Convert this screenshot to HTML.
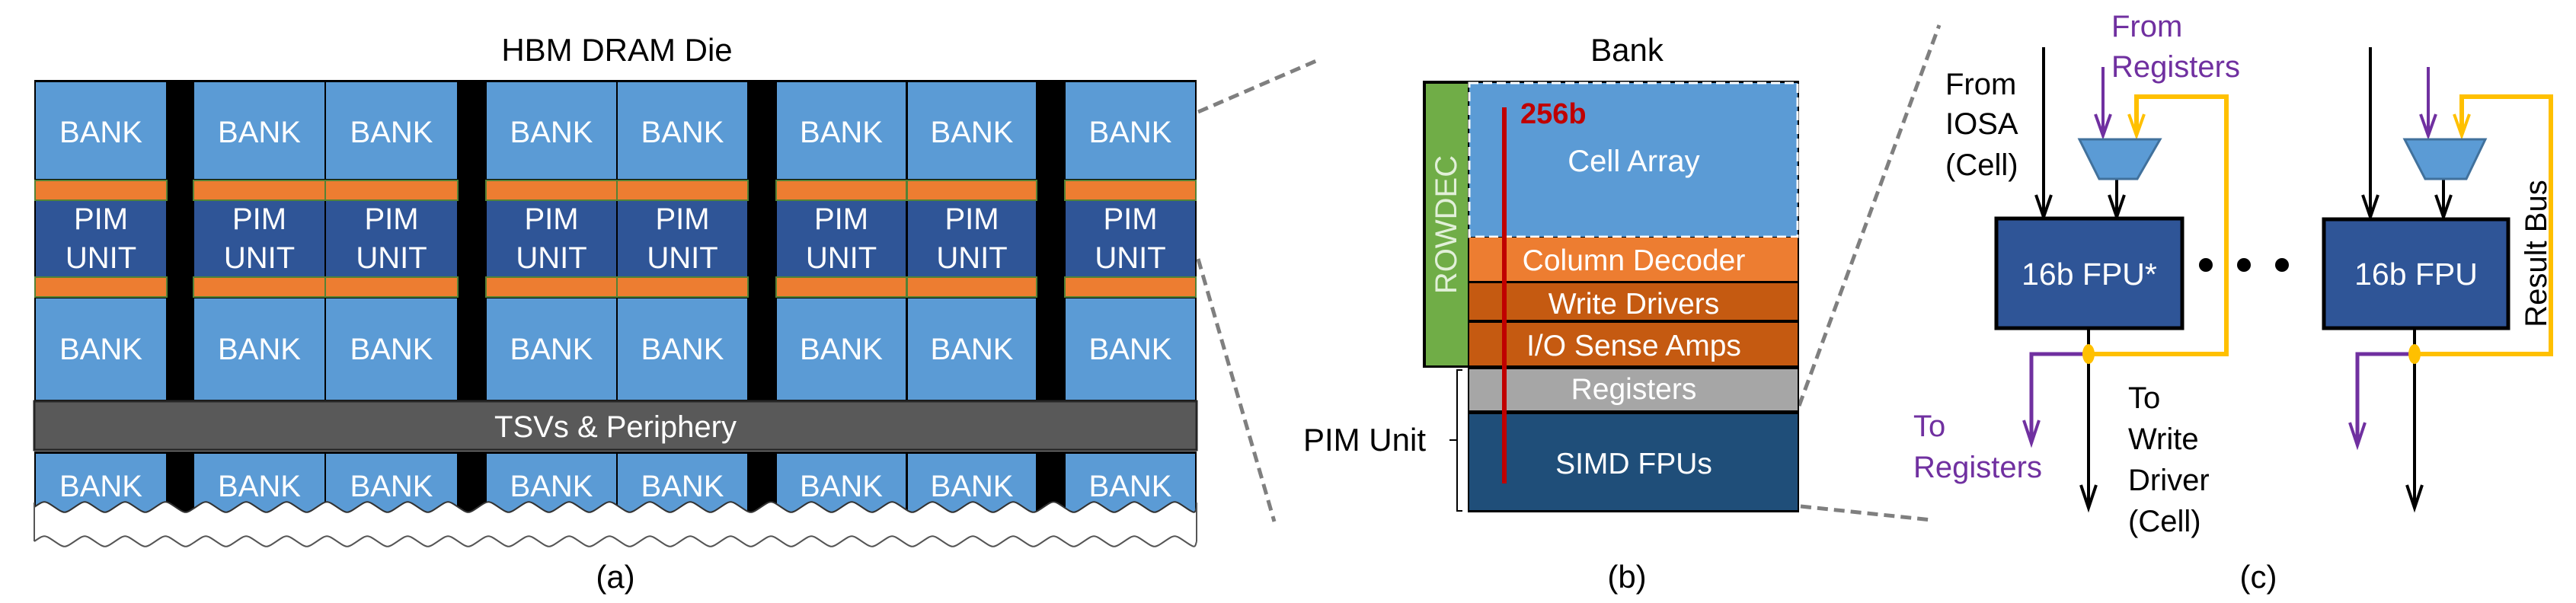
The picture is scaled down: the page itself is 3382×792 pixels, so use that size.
<!DOCTYPE html>
<html><head><meta charset="utf-8"><style>
html,body{margin:0;padding:0;background:#fff;}
svg{display:block;}
text{font-family:"Liberation Sans",Arial,sans-serif;}
</style></head><body>
<svg id="s" width="3382" height="792" viewBox="0 0 3382 792" xmlns="http://www.w3.org/2000/svg">
<g id="a"></g>
<text x="810" y="80" font-size="42" text-anchor="middle">HBM DRAM Die</text>
<text x="808" y="772" font-size="42" text-anchor="middle">(a)</text>

<g stroke="#7f7f7f" stroke-width="5" stroke-dasharray="14,8" fill="none">
<line x1="1573" y1="147" x2="1728" y2="80"/>
<line x1="1573" y1="340" x2="1673" y2="685"/>
<line x1="2362" y1="533" x2="2546" y2="33"/>
<line x1="2364" y1="665" x2="2536" y2="683"/>
</g>

<text x="2136" y="80" font-size="42" text-anchor="middle">Bank</text>
<rect x="1868" y="106" width="494" height="377" fill="#000"/>
<rect x="1872" y="110" width="55" height="370" fill="#70AD47"/>
<text transform="translate(1912,295) rotate(-90)" font-size="40" fill="#E2F0D9" text-anchor="middle">ROWDEC</text>
<rect x="1929" y="109" width="431" height="202" fill="#5B9BD5" stroke="#fff" stroke-width="3" stroke-dasharray="12,6"/>
<text x="2145" y="225" font-size="40" fill="#fff" text-anchor="middle">Cell Array</text>
<rect x="1929" y="312" width="431" height="57" fill="#ED7D31"/>
<text x="2145" y="355" font-size="39" fill="#fff" text-anchor="middle">Column Decoder</text>
<rect x="1929" y="372" width="431" height="48" fill="#C55A11"/>
<text x="2145" y="412" font-size="39" fill="#fff" text-anchor="middle">Write Drivers</text>
<rect x="1929" y="424" width="431" height="56" fill="#C55A11"/>
<text x="2145" y="467" font-size="39" fill="#fff" text-anchor="middle">I/O Sense Amps</text>
<rect x="1927" y="482" width="435" height="191" fill="#000"/>
<rect x="1929" y="485" width="431" height="54" fill="#A6A6A6"/>
<text x="2145" y="524" font-size="39" fill="#fff" text-anchor="middle">Registers</text>
<rect x="1929" y="544" width="431" height="126" fill="#1F4E79"/>
<text x="2145" y="622" font-size="39" fill="#fff" text-anchor="middle">SIMD FPUs</text>
<line x1="1975" y1="141" x2="1975" y2="635" stroke="#C00000" stroke-width="6"/>
<text x="1996" y="162" font-size="38" font-weight="bold" fill="#C00000">256b</text>
<path d="M1920,486 L1913,486 L1913,671 L1920,671 M1913,578 L1903,578" fill="none" stroke="#000" stroke-width="2"/>
<text x="1872" y="592" font-size="42" text-anchor="end">PIM Unit</text>
<text x="2136" y="772" font-size="42" text-anchor="middle">(b)</text>

<g stroke-width="4" fill="none">
<line x1="2683" y1="62" x2="2683" y2="284" stroke="#000"/>
<line x1="2779" y1="236" x2="2779" y2="284" stroke="#000"/>
<line x1="2761" y1="88" x2="2761" y2="176" stroke="#7030A0"/>
<path d="M2805,176 L2805,127 L2923,127 L2923,465 L2742,465" stroke="#FFC000" stroke-width="6"/>
<line x1="2742" y1="433" x2="2742" y2="665" stroke="#000"/>
<path d="M2742,465 L2667,465 L2667,578" stroke="#7030A0" stroke-width="5"/>
<line x1="3112" y1="62" x2="3112" y2="284" stroke="#000"/>
<line x1="3208" y1="236" x2="3208" y2="284" stroke="#000"/>
<line x1="3188" y1="88" x2="3188" y2="176" stroke="#7030A0"/>
<path d="M3232,176 L3232,127 L3349,127 L3349,465 L3170,465" stroke="#FFC000" stroke-width="6"/>
<line x1="3170" y1="433" x2="3170" y2="665" stroke="#000"/>
<path d="M3170,465 L3095,465 L3095,582" stroke="#7030A0" stroke-width="5"/>
</g>
<g fill="none" stroke-width="4">
<path d="M2673,256 L2683,285 L2693,256" stroke="#000"/>
<path d="M2769,256 L2779,285 L2789,256" stroke="#000"/>
<path d="M3102,256 L3112,285 L3122,256" stroke="#000"/>
<path d="M3198,256 L3208,285 L3218,256" stroke="#000"/>
<path d="M2751,150 L2761,178 L2771,150" stroke="#7030A0"/>
<path d="M2795,150 L2805,178 L2815,150" stroke="#FFC000"/>
<path d="M3178,150 L3188,178 L3198,150" stroke="#7030A0"/>
<path d="M3222,150 L3232,178 L3242,150" stroke="#FFC000"/>
<path d="M2657,552 L2667,582 L2677,552" stroke="#7030A0"/>
<path d="M3085,555 L3095,585 L3105,555" stroke="#7030A0"/>
<path d="M2732,637 L2742,667 L2752,637" stroke="#000"/>
<path d="M3160,637 L3170,667 L3180,637" stroke="#000"/>
</g>
<polygon points="2730,183 2836,183 2806,235 2756,235" fill="#5B9BD5" stroke="#41719C" stroke-width="3"/>
<polygon points="3157,183 3263,183 3238,235 3184,235" fill="#5B9BD5" stroke="#41719C" stroke-width="3"/>
<ellipse cx="2742" cy="465" rx="8" ry="13" fill="#FFC000"/>
<ellipse cx="3170" cy="465" rx="8" ry="13" fill="#FFC000"/>
<rect x="2621" y="287" width="244" height="144" fill="#2F5597" stroke="#000" stroke-width="5"/>
<text x="2743" y="374" font-size="41" fill="#fff" text-anchor="middle">16b FPU*</text>
<rect x="3051" y="288" width="242" height="143" fill="#2F5597" stroke="#000" stroke-width="5"/>
<text x="3172" y="374" font-size="41" fill="#fff" text-anchor="middle">16b FPU</text>
<circle cx="2896" cy="348" r="9" fill="#000"/>
<circle cx="2946" cy="348" r="9" fill="#000"/>
<circle cx="2996" cy="348" r="9" fill="#000"/>
<text transform="translate(3343,333) rotate(-90)" font-size="40" text-anchor="middle">Result Bus</text>
<g font-size="40">
<text x="2554" y="124">From</text>
<text x="2554" y="176">IOSA</text>
<text x="2554" y="230">(Cell)</text>
<text x="2772" y="48" fill="#7030A0">From</text>
<text x="2772" y="101" fill="#7030A0">Registers</text>
<text x="2512" y="573" fill="#7030A0">To</text>
<text x="2512" y="627" fill="#7030A0">Registers</text>
<text x="2794" y="536">To</text>
<text x="2794" y="590">Write</text>
<text x="2794" y="644">Driver</text>
<text x="2794" y="698">(Cell)</text>
</g>
<text x="2965" y="772" font-size="42" text-anchor="middle">(c)</text>
</svg>
<script>
(function(){
var ns="http://www.w3.org/2000/svg",g=document.getElementById("a");
function el(t,a){var e=document.createElementNS(ns,t);for(var k in a)e.setAttribute(k,a[k]);g.appendChild(e);return e;}
el("rect",{x:45,y:105,width:1526,height:422,fill:"#000"});
var cols=[[47,171],[255,171],[428,172],[639,170],[811,170],[1020,169],[1192,168],[1399,170]];
cols.forEach(function(c){
 var x=c[0],w=c[1],cx=x+w/2;
 el("rect",{x:x,y:108,width:w,height:127,fill:"#5B9BD5"});
 el("rect",{x:x-1,y:237,width:w+2,height:26,fill:"#ED7D31",stroke:"#548235","stroke-width":2});
 el("rect",{x:x,y:264,width:w,height:99,fill:"#2F5597"});
 el("rect",{x:x-1,y:364,width:w+2,height:26,fill:"#ED7D31",stroke:"#548235","stroke-width":2});
 el("rect",{x:x,y:392,width:w,height:133,fill:"#5B9BD5"});
 var t=el("text",{x:cx,y:187,"font-size":40,fill:"#fff","text-anchor":"middle"});t.textContent="BANK";
 t=el("text",{x:cx,y:301,"font-size":40,fill:"#fff","text-anchor":"middle"});t.textContent="PIM";
 t=el("text",{x:cx,y:352,"font-size":40,fill:"#fff","text-anchor":"middle"});t.textContent="UNIT";
 t=el("text",{x:cx,y:472,"font-size":40,fill:"#fff","text-anchor":"middle"});t.textContent="BANK";
});
el("rect",{x:45,y:527,width:1526,height:64,fill:"#595959",stroke:"#262626","stroke-width":3});
var tt=el("text",{x:808,y:574,"font-size":40,fill:"#fff","text-anchor":"middle"});tt.textContent="TSVs & Periphery";
el("rect",{x:45,y:593,width:1526,height:82,fill:"#000"});
cols.forEach(function(c){
 el("rect",{x:c[0],y:596,width:c[1],height:80,fill:"#5B9BD5"});
 var t=el("text",{x:c[0]+c[1]/2,y:652,"font-size":40,fill:"#fff","text-anchor":"middle"});t.textContent="BANK";
});
function wave(y0,amp){var d="M45,"+(y0);var P=53;for(var x=45;x<1571;x+=P){d+=" C"+(x+P*0.25)+","+(y0-amp)+" "+(x+P*0.25)+","+(y0-amp)+" "+(x+P*0.5)+","+y0+" S"+(x+P*0.75)+","+(y0+amp)+" "+Math.min(x+P,1571)+","+y0;}return d;}
var w1=wave(666,9);
el("path",{d:w1+" L1571,700 L45,700 Z",fill:"#fff"});
el("path",{d:w1,fill:"none",stroke:"#333","stroke-width":2});
el("rect",{x:40,y:676,width:1540,height:20,fill:"#fff"});
el("path",{d:wave(711,9),fill:"none",stroke:"#555","stroke-width":2});
el("line",{x1:45,y1:660,x2:45,y2:711,stroke:"#555","stroke-width":2});
el("line",{x1:1571,y1:660,x2:1571,y2:711,stroke:"#555","stroke-width":2});
})();
</script>
</body></html>
